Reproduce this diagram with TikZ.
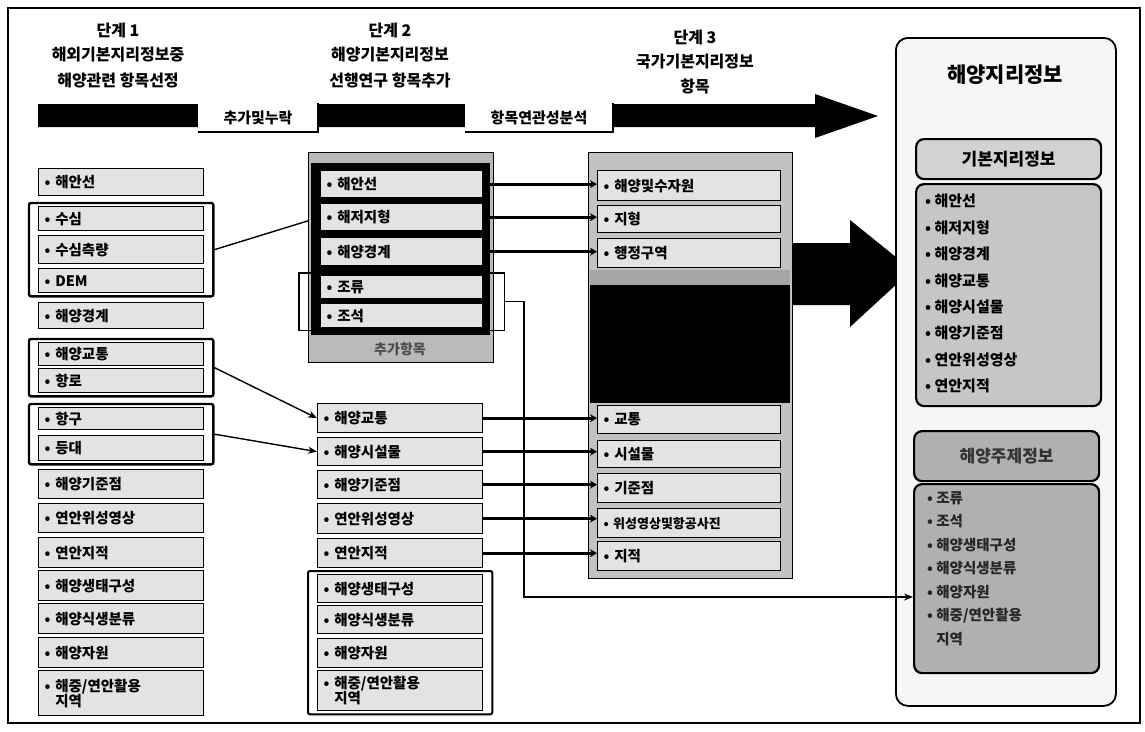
\documentclass[tikz,border=0pt]{standalone}
\usepackage{fontspec}
\setmainfont{Noto Sans CJK KR}
\usetikzlibrary{arrows.meta,fit,backgrounds,calc}
\begin{document}
\begin{tikzpicture}[x=1pt,y=-1pt,
  item/.style={draw, line width=1.3pt, fill=gray!22, anchor=north west, inner xsep=6pt, inner ysep=1pt, align=left, font=\bfseries\fontsize{14.5}{15}\selectfont},
  litem/.style={item, text width=153pt},
  sitem/.style={item, text width=171pt},
  grp/.style={draw, line width=2.4pt, rounded corners=2pt, inner xsep=9pt, inner ysep=3pt},
  grpthin/.style={draw, line width=1.3pt, inner xsep=21pt, inner ysep=2pt},
  hdr/.style={font=\bfseries\fontsize{16}{17}\selectfont},
  labbox/.style={fill=white, font=\bfseries\fontsize{15}{16}\selectfont, minimum height=29pt, inner sep=0pt},
  linka/.style={line width=1.4pt, -{Stealth[length=9pt,width=7pt]}},
  link/.style={line width=1.4pt},
  fat/.style={line width=2.8pt, -{Stealth[length=7pt,width=8pt]}},
  panel/.style={draw, anchor=north west, inner sep=0pt},
  rpanel/.style={draw, line width=2.2pt, rounded corners=8pt, anchor=north west, inner sep=0pt},
]
\useasboundingbox (0,0) rectangle (1145,731);
\draw[line width=1.5pt] (8,8) rectangle (1140,723);

% headers
\node[hdr] (h1a) at (118,30) {단계 1};
\node[hdr] (h1b) at (118,55) {해외기본지리정보중};
\node[hdr] (h1c) at (118,80) {해양관련 항목선정};
\node[hdr] (h2a) at (390,30) {단계 2};
\node[hdr] (h2b) at (390,55) {해양기본지리정보};
\node[hdr] (h2c) at (390,80) {선행연구 항목추가};
\node[hdr] (h3a) at (695,37) {단계 3};
\node[hdr] (h3b) at (695,62) {국가기본지리정보};
\node[hdr] (h3c) at (695,86) {항목};

% top band arrow
\fill (38,104) -- (815,104) -- (815,94) -- (878,116) -- (815,138) -- (815,127) -- (38,127) -- cycle;
\node[labbox, minimum width=120pt] (LA) at (258,117.5) {추가및누락};
\draw[line width=1.6pt] (LA.south west) -- (LA.south east) -- (LA.north east);
\node[labbox, minimum width=148pt] (LB) at (539,117.5) {항목연관성분석};
\draw[line width=1.6pt] (LB.south west) -- (LB.south east) -- (LB.north east);

% left column
\node[litem, minimum height=27pt] (L1) at (38,168) {• 해안선};
\node[litem, minimum height=24pt] (L2) at (38,206) {• 수심};
\node[litem, minimum height=28pt] (L3) at (38,235) {• 수심측량};
\node[litem, minimum height=24pt] (L4) at (38,268) {• DEM};
\node[litem, minimum height=26pt] (L5) at (38,302) {• 해양경계};
\node[litem, minimum height=23pt] (L6) at (38,342) {• 해양교통};
\node[litem, minimum height=24pt] (L7) at (38,368) {• 항로};
\node[litem, minimum height=22pt] (L8) at (38,407) {• 항구};
\node[litem, minimum height=25pt] (L9) at (38,435) {• 등대};
\node[litem, minimum height=29pt] (L10) at (38,469) {• 해양기준점};
\node[litem, minimum height=29pt] (L11) at (38,503) {• 연안위성영상};
\node[litem, minimum height=30pt] (L12) at (38,537) {• 연안지적};
\node[litem, minimum height=30pt] (L13) at (38,570) {• 해양생태구성};
\node[litem, minimum height=30pt] (L14) at (38,603) {• 해양식생분류};
\node[litem, minimum height=30pt] (L15) at (38,637) {• 해양자원};
\node[litem, minimum height=45pt] (L16) at (38,670) {• 해중/연안활용\\\phantom{• }지역};
\node[grp, fit=(L2)(L4)] (G1) {};
\node[grp, fit=(L6)(L7)] (G2) {};
\node[grp, fit=(L8)(L9)] (G3) {};

% middle upper box
\node[panel, fill=gray!55, line width=1pt, minimum width=185pt, minimum height=210pt] (MB) at (308,152) {};
\fill (311,163) rectangle (490,335);
\node[litem, text width=150pt, minimum height=27pt] (M1) at (320,170) {• 해안선};
\node[litem, text width=150pt, minimum height=27pt] (M2) at (320,203) {• 해저지형};
\node[litem, text width=150pt, minimum height=28pt] (M3) at (320,237) {• 해양경계};
\node[litem, text width=150pt, minimum height=23pt] (M4) at (320,275) {• 조류};
\node[litem, text width=150pt, minimum height=24pt] (M5) at (320,303) {• 조석};
\node[text=black!70, font=\bfseries\fontsize{14}{15}\selectfont] (MBl) at (400,349) {추가항목};
\node[grpthin, fit=(M4)(M5)] (BR) {};

% middle lower items
\node[litem, minimum height=29pt] (N1) at (317,403) {• 해양교통};
\node[litem, minimum height=28pt] (N2) at (317,437) {• 해양시설물};
\node[litem, minimum height=28pt] (N3) at (317,470) {• 해양기준점};
\node[litem, minimum height=30pt] (N4) at (317,503) {• 연안위성영상};
\node[litem, minimum height=29pt] (N5) at (317,538) {• 연안지적};
\node[litem, minimum height=28pt] (N6) at (317,574) {• 해양생태구성};
\node[litem, minimum height=28pt] (N7) at (317,605) {• 해양식생분류};
\node[litem, minimum height=29pt] (N8) at (317,638) {• 해양자원};
\node[litem, minimum height=40pt] (N9) at (317,670) {• 해중/연안활용\\\phantom{• }지역};
\node[grp, line width=2pt, fit=(N6)(N9)] (G4) {};

% stage 3 box
\node[panel, fill=gray!48, line width=1pt, minimum width=204pt, minimum height=426pt] (SB) at (588,152) {};
\fill[gray!70] (590,270) rectangle (790,290);
\fill (590,285) rectangle (790,403);
\node[sitem, minimum height=30pt] (S1) at (597,170) {• 해양및수자원};
\node[sitem, minimum height=27pt] (S2) at (597,205) {• 지형};
\node[sitem, minimum height=29pt] (S3) at (597,238) {• 행정구역};
\node[sitem, minimum height=28pt] (S5) at (597,405) {• 교통};
\node[sitem, minimum height=27pt] (S6) at (597,440) {• 시설물};
\node[sitem, minimum height=29pt] (S7) at (597,473) {• 기준점};
\node[sitem, minimum height=29pt, font=\bfseries\fontsize{13}{14}\selectfont] (S8) at (597,508) {• 위성영상및항공사진};
\node[sitem, minimum height=29pt] (S9) at (597,541) {• 지적};

% big arrow to the right panel
\fill (792,243) -- (850,243) -- (850,220) -- (912,270) -- (850,327) -- (850,305) -- (792,305) -- cycle;

% right panel
\node[draw, line width=1.8pt, rounded corners=12pt, fill=gray!7, anchor=north west, inner sep=0pt, minimum width=220pt, minimum height=668pt] (RP) at (895,37) {};
\node[font=\bfseries\fontsize{21}{22}\selectfont] (RPt) at (1005,75) {해양지리정보};
\node[rpanel, fill=gray!35, minimum width=185pt, minimum height=40pt] (H1) at (915,138) {};
\node[font=\bfseries\fontsize{17}{18}\selectfont] (H1t) at (H1.center) {기본지리정보};
\node[rpanel, fill=gray!45, minimum width=185pt, minimum height=222pt] (B1) at (915,183) {};
\node[anchor=north west, align=left, inner sep=0pt, font=\bfseries\fontsize{15}{26.4}\selectfont] (B1t) at (925,194) {• 해안선\\• 해저지형\\• 해양경계\\• 해양교통\\• 해양시설물\\• 해양기준점\\• 연안위성영상\\• 연안지적};
\node[rpanel, fill=gray!62, minimum width=185pt, minimum height=50pt] (H2) at (913,430) {};
\node[text=black!80, font=\bfseries\fontsize{17}{18}\selectfont] (H2t) at (H2.center) {해양주제정보};
\node[rpanel, fill=gray!62, minimum width=185pt, minimum height=189pt] (B2) at (913,483) {};
\node[anchor=north west, align=left, inner sep=0pt, text=black!85, font=\bfseries\fontsize{14.5}{23.5}\selectfont] (B2t) at (927,491) {• 조류\\• 조석\\• 해양생태구성\\• 해양식생분류\\• 해양자원\\• 해중/연안활용\\\phantom{• }지역};
\coordinate (tapin) at (913,597);

% connectors
\draw[linka] (G2.east) -- (N1.west);
\draw[linka] (G3.east) -- (N2.west);
\draw[fat] (M1.east) -- (M1.east -| S1.west);
\draw[fat] (M2.east) -- (M2.east -| S2.west);
\draw[fat] (M3.east) -- (M3.east -| S3.west);
\draw[fat] (N1.east) -- (N1.east -| S5.west);
\draw[fat] (N2.east) -- (N2.east -| S6.west);
\draw[fat] (N3.east) -- (N3.east -| S7.west);
\draw[fat] (N4.east) -- (N4.east -| S8.west);
\draw[fat] (N5.east) -- (N5.east -| S9.west);
\draw[linka] (BR.east) -- ++(19,0) |- (tapin);

\begin{pgfonlayer}{background}
\fill[white] (0,0) rectangle (1145,731);
\draw[link] (G1.east) -- (M2.west);
\end{pgfonlayer}
\end{tikzpicture}
\end{document}
